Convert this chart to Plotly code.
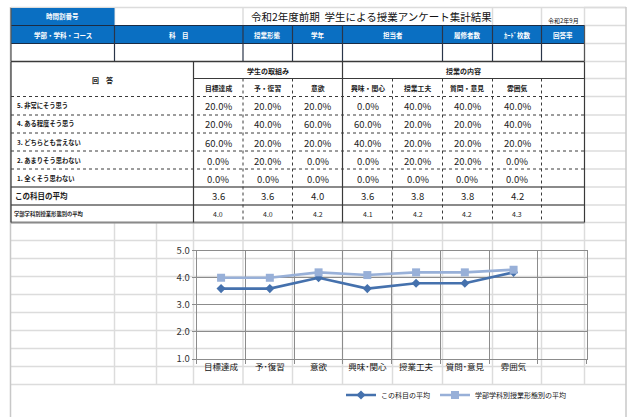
import plotly.graph_objects as go

# ---------------- data ----------------
categories = ["目標達成", "予･復習", "意欲", "興味･関心", "授業工夫", "質問･意見", "雰囲気"]
table_cols = ["目標達成", "予・復習", "意欲", "興味・関心", "授業工夫", "質問・意見", "雰囲気"]
answer_labels = ["5. 非常にそう思う", "4. ある程度そう思う", "3. どちらとも言えない",
                 "2. あまりそう思わない", "1. 全くそう思わない"]
pct_5 = [20.0, 20.0, 20.0, 0.0, 40.0, 40.0, 40.0]
pct_4 = [20.0, 40.0, 60.0, 60.0, 20.0, 20.0, 40.0]
pct_3 = [60.0, 20.0, 20.0, 40.0, 20.0, 20.0, 20.0]
pct_2 = [0.0, 20.0, 0.0, 0.0, 20.0, 20.0, 0.0]
pct_1 = [0.0, 0.0, 0.0, 0.0, 0.0, 0.0, 0.0]
avg_course = [3.6, 3.6, 4.0, 3.6, 3.8, 3.8, 4.2]
avg_dept = [4.0, 4.0, 4.2, 4.1, 4.2, 4.2, 4.3]
series_names = ["この科目の平均", "学部学科別授業形態別の平均"]
header_labels = ["学部・学科・コース", "科　目", "授業形態", "学年", "担当者", "履修者数", "ｶｰﾄﾞ枚数", "回答率"]
title_text = "令和2年度前期  学生による授業アンケート集計結果"
date_text = "令和2年9月"

W, H = 632, 417
FONT = "Noto Sans CJK JP"

def px(x):
    return x / W

def py(y):
    return 1 - y / H

shapes = []
annos = []

def hline(y, x0, x1, color, width=1, dash="solid"):
    shapes.append(dict(type="line", xref="paper", yref="paper", x0=px(x0), x1=px(x1),
                       y0=py(y), y1=py(y), line=dict(color=color, width=width, dash=dash), layer="below"))

def vline(x, y0, y1, color, width=1, dash="solid"):
    shapes.append(dict(type="line", xref="paper", yref="paper", x0=px(x), x1=px(x),
                       y0=py(y0), y1=py(y1), line=dict(color=color, width=width, dash=dash), layer="below"))

def rect(x0, y0, x1, y1, fill):
    shapes.append(dict(type="rect", xref="paper", yref="paper", x0=px(x0), x1=px(x1),
                       y0=py(y1), y1=py(y0), fillcolor=fill, line=dict(width=0), layer="below"))

def text(x, y, s, size=8, color="#1a1a1a", anchor="center", bold=False):
    if bold:
        s = "<b>" + s + "</b>"
    annos.append(dict(xref="paper", yref="paper", x=px(x), y=py(y), text=s, showarrow=False,
                      xanchor=anchor, yanchor="middle", font=dict(family=FONT, size=size, color=color)))

GRID = "#dcdcdc"
DARK = "#3a3a3a"
MID = "#8a8a8a"

# ---------- spreadsheet background grid ----------
for y in [222.5, 240.5, 258.5, 276.5, 294.5, 312.5, 330.5, 348.5, 366.5, 384.5]:
    hline(y, 11, 626, GRID, 1.5)
for x in [114.5, 156.5, 193.5, 243, 292.5, 342.5, 392.5, 442.5, 492.5, 541.5, 584.5]:
    vline(x, 222, 384.5, GRID, 1.5)
for y in [7.5, 25.5, 43.5, 61.5, 78.5, 96.5, 115, 133, 151, 169, 187, 205]:
    hline(y, 584, 626, GRID, 1.5)
hline(7.5, 11, 626, GRID, 1.5)
vline(10.5, 7, 417, "#c8c8c8", 1.5)
vline(626, 7, 417, "#c8c8c8", 1.5)
vline(584.5, 7, 61, GRID, 1.5)
for x in [114.5, 243, 492.5, 541.5]:
    vline(x, 7.5, 25, GRID, 1.5)

# ---------- header block ----------
col_edges = [11, 114.5, 243, 292.5, 342.5, 442.5, 492.5, 541.5, 584.5]
rect(11, 8, 114.5, 25.5, "#0a6fc2")
rect(11, 25.5, 584.5, 43.5, "#0a6fc2")
hline(25.5, 11, 584.5, "#1b2c44", 1.2)
hline(43.5, 11, 584.5, "#1b2c44", 1.2)
for x in col_edges[1:-1]:
    vline(x, 25.5, 61, "#2a3548", 1.2)
vline(584.5, 25.5, 61, "#555555", 1.2)
vline(11, 8, 61, "#555555", 1.2)
text(62.5, 16.5, "時間割番号", 6.5, "white", bold=True)
for i, lab in enumerate(header_labels):
    cx = (col_edges[i] + col_edges[i + 1]) / 2
    text(cx, 34.5, lab, 6.5, "white", bold=True)
text(371, 17, title_text, 10.5, "#111111")
text(563, 20.5, date_text, 6, "#111111")

# ---------- survey table ----------
T_L, T_R = 11, 584.5
data_edges = [193.5, 243, 292.5, 342.5, 392.5, 442.5, 492.5, 541.5, 584.5]
hline(61.5, T_L, T_R, DARK, 1.3)
hline(78.5, 193.5, T_R, DARK, 1)
for y in [96.5, 115, 133, 151, 169]:
    hline(y, T_L, T_R, DARK, 1, "dot")
for y in [187, 205, 222.5]:
    hline(y, T_L, T_R, MID, 2)
for x in [T_L, 193.5, 342.5, T_R]:
    vline(x, 61.5, 222.5, DARK, 1.2)
for x in [243, 292.5, 392.5, 442.5, 492.5, 541.5]:
    vline(x, 78.5, 222.5, DARK, 1, "dot")

text(102, 79.5, "回　答", 7, bold=True)
text(268, 70.5, "学生の取組み", 7, bold=True)
text(463.5, 70.5, "授業の内容", 7, bold=True)
for i, lab in enumerate(table_cols):
    cx = (data_edges[i] + data_edges[i + 1]) / 2
    text(cx, 88, lab, 6.8, bold=True)

rows = [pct_5, pct_4, pct_3, pct_2, pct_1]
row_y = [106, 124, 142, 160, 178]
for lab, vals, y in zip(answer_labels, rows, row_y):
    text(15, y, lab, 6.3, anchor="left", bold=True)
    for i, v in enumerate(vals):
        cx = (data_edges[i] + data_edges[i + 1]) / 2
        text(cx, y + 0.5, f"{v:.1f}%", 9.5, "#222222")

text(13, 196, series_names[0], 7.5, anchor="left", bold=True)
text(12, 213.5, series_names[1], 5.3, anchor="left", bold=True)
for i, v in enumerate(avg_course):
    cx = (data_edges[i] + data_edges[i + 1]) / 2
    text(cx, 196.5, f"{v:.1f}", 9.5, "#222222")
for i, v in enumerate(avg_dept):
    cx = (data_edges[i] + data_edges[i + 1]) / 2
    text(cx, 214, f"{v:.1f}", 7, "#222222")

# ---------- chart ----------
xs = list(range(len(categories)))
fig = go.Figure()
fig.add_trace(go.Scatter(x=xs, y=avg_course, name=series_names[0], mode="lines+markers",
                         line=dict(color="#4571ad", width=2.6),
                         marker=dict(symbol="diamond", size=7, color="#4571ad")))
fig.add_trace(go.Scatter(x=xs, y=avg_dept, name=series_names[1], mode="lines+markers",
                         line=dict(color="#98b0d8", width=2.6),
                         marker=dict(symbol="square", size=8, color="#98b0d8")))

fig.update_layout(
    width=W, height=H, margin=dict(l=0, r=0, t=0, b=0, autoexpand=False),
    paper_bgcolor="white", plot_bgcolor="rgba(0,0,0,0)",
    shapes=shapes, annotations=annos,
    font=dict(family=FONT, color="#222222"),
    showlegend=True,
    legend=dict(orientation="h", x=px(341), y=py(395), xanchor="left", yanchor="middle",
                font=dict(size=7, family=FONT, color="#111111"), bgcolor="rgba(0,0,0,0)",
                itemwidth=30),
    xaxis=dict(domain=[px(196.7), px(586.7)], range=[-0.5, 7.5], automargin=False,
               tickvals=xs, ticktext=categories, ticks="", showgrid=False, zeroline=False,
               showline=True, linecolor="#8c8c8c", linewidth=1, mirror=True,
               tickfont=dict(size=8.5, color="#111111"),
               minor=dict(tick0=-0.5, dtick=1, showgrid=True, gridcolor="#8c8c8c", gridwidth=1,
                          ticks="outside", ticklen=4, tickcolor="#8c8c8c")),
    yaxis=dict(domain=[py(359), py(250.7)], range=[1, 5], dtick=1, tickformat=".1f", automargin=False,
               showgrid=True, gridcolor="#8c8c8c", gridwidth=1, zeroline=False,
               showline=True, linecolor="#8c8c8c", linewidth=1, mirror=True,
               ticks="outside", ticklen=4, tickcolor="#8c8c8c",
               tickfont=dict(size=9.5, color="#333333")),
)

fig.write_html("out.html", config={"displayModeBar": False},
               post_script="document.body.style.margin='0';document.body.style.overflow='hidden';")
